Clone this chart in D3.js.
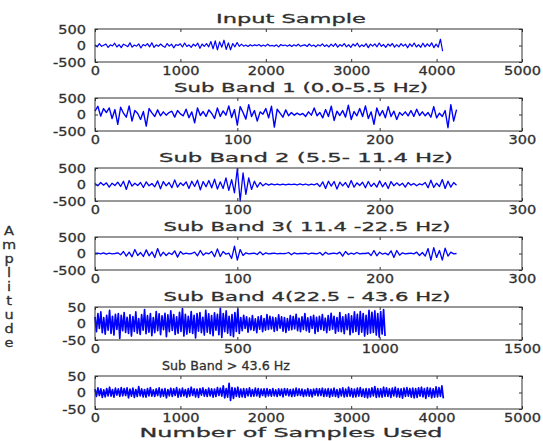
<!DOCTYPE html>
<html><head><meta charset="utf-8">
<script src="https://cdn.jsdelivr.net/npm/d3@7/dist/d3.min.js"></script>
<style>body{margin:0;background:#fff}text{font-family:'DejaVu Sans',sans-serif;fill:#2f2f2f;stroke:#2f2f2f;stroke-width:0.3px}</style>
</head><body><svg id="c" width="543" height="441"></svg>
<script>
// ---------- DATA ----------
const titles = ["Input Sample","Sub Band 1 (0.0-5.5 Hz)","Sub Band 2 (5.5- 11.4 Hz)","Sub Band 3( 11.4 -22.5 Hz)","Sub Band 4(22.5 - 43.6 Hz)","Sub Band > 43.6 Hz"];
const xMax = [5000,300,300,300,1500,5000];
const xTicks = [[0,1000,2000,3000,4000,5000],[0,100,200,300],[0,100,200,300],[0,100,200,300],[0,500,1000,1500],[0,1000,2000,3000,4000,5000]];
const yMax = [500,500,500,500,50,50];
const yTicks = [[-500,0,500],[-500,0,500],[-500,0,500],[-500,0,500],[-50,0,50],[-50,0,50]];
const totalSamples = [4096,256,256,256,1024,4096];
const yLabel = "Amplitude";
const xLabel = "Number of Samples Used";

const inputSample = [
15,-40,55,-25,10,45,-60,20,-15,70,-45,25,-65,40,5,-35,80,-50,15,-20,
50,-75,30,-10,55,-40,85,-60,20,-25,45,-15,-55,60,-20,40,-70,25,0,50,
-45,75,-30,20,-55,40,-15,70,-85,45,-25,60,-40,120,-100,140,-130,110,-50,160,
-120,80,-130,60,-40,90,-25,40,-20,15,-30,25,-15,20,-5,30,-25,15,-20,40,
-15,5,-25,20,-40,30,-5,15,-20,25,-30,20,-15,40,-25,5,20,-30,45,-20,
15,-40,25,-15,50,-30,20,-45,40,-25,55,-50,30,-20,60,-40,25,-55,45,-15,
70,-45,20,-30,55,-65,40,-20,50,-40,75,-25,30,-55,45,-15,60,-50,25,-40,
55,-20,40,-70,50,-30,75,-45,25,-55,70,-40,50,-25,80,-65,40,-50,190,-170];

const subBand1 = [
100,250,-50,180,60,200,-120,150,-300,220,40,-80,260,-200,120,30,-150,90,-350,180,
50,-60,140,-40,80,-20,60,100,-80,120,20,-40,160,-100,80,-250,200,-30,90,-60,
140,30,-120,200,-60,110,-20,260,-90,150,-320,240,60,-140,300,-60,120,-200,80,10,
180,-100,250,-380,160,40,-80,140,-40,60,-20,40,-10,30,-60,80,-20,200,-40,60,
-100,150,-60,250,-180,100,-30,120,-80,280,-150,90,-40,180,-60,260,-120,80,-300,200,
-40,120,-100,240,-60,100,-150,60,-20,80,-40,120,-60,160,-30,80,-40,60,-80,240,
-100,40,-60,120,-400,300,-200,150];

const subBand2 = [
30,-40,60,-20,50,-80,40,-30,70,-60,100,-150,120,-50,40,-30,60,-90,80,-40,
30,-70,110,-130,90,-40,60,-100,140,-80,50,-30,80,-120,100,-60,130,-160,90,-70,
120,-100,160,-140,80,-120,200,-180,150,-250,480,-500,350,-300,200,-150,100,-80,60,-40,
30,-20,20,-10,15,-10,10,-15,10,-5,10,-15,20,-10,15,-20,10,-10,30,-60,
80,-120,100,-50,90,-140,70,-40,60,-90,120,-80,50,-30,70,-100,90,-60,40,-80,
110,-70,60,-120,90,-40,50,-30,40,-80,60,-20,30,-40,20,-10,60,-100,130,-90,
40,-60,150,-120,100,-80,60,-20];

const subBand3 = [
0,10,-10,20,-20,10,-10,0,20,-40,60,-80,40,-100,120,-60,30,-90,110,-70,
50,-120,150,-80,40,-60,20,-30,80,-110,60,-20,10,-10,0,40,-70,90,-50,20,
-10,60,-100,140,-90,60,-20,10,-150,220,-200,120,-60,20,-10,0,10,-30,50,-40,
20,-10,0,10,-10,5,-5,0,30,-40,20,-10,0,0,10,-20,10,0,-10,30,
-50,40,-20,0,10,-10,40,-80,60,-30,10,-20,30,-10,0,0,20,-60,90,-70,
40,-20,10,-40,80,-120,90,-50,20,-10,0,10,-10,40,-60,30,-80,150,-200,180,
-120,90,-200,160,-80,40,-10,0];

const subBand4 = [
20,-25,30,-15,35,-28,18,-32,25,-20,40,-30,22,-35,28,-18,30,-45,25,-22,
33,-27,19,-30,26,-38,21,-24,35,-29,15,-33,27,-20,42,-31,24,-26,30,-37,
18,-28,36,-22,29,-34,23,-19,31,-40,26,-25,38,-21,27,-33,20,-29,34,-24,
45,-38,28,-32,22,-27,36,-30,25,-44,30,-23,33,-28,19,-35,40,-26,29,-31,
24,-37,32,-20,28,-34,46,-42,30,-25,38,-29,22,-36,27,-40,33,-24,44,-30,
18,-22,25,-15,20,-26,16,-19,24,-21,14,-28,20,-17,23,-25,15,-20,27,-18,
22,-16,19,-24,17,-21,26,-14,20,-23,18,-27,15,-20,24,-19,21,-16,28,-22,
16,-25,20,-18,30,-22,17,-26,21,-15,25,-30,19,-24,22,-18,27,-21,16,-28,
24,-20,31,-17,22,-29,18,-23,33,-25,20,-31,26,-19,29,-34,23,-27,35,-24,
28,-33,36,-26,30,-38,25,-32,40,-29,34,-27,38,-35,30,-41,36,-32,42,-38];

const subBand5 = [
10,-12,14,-9,11,-15,8,-13,12,-10,16,-11,9,-14,13,-8,11,-12,15,-10,
12,-9,14,-16,10,-11,13,-15,9,-12,18,-10,11,-13,9,-14,12,-10,15,-11,
8,-12,11,-9,14,-13,10,-11,12,-16,9,-10,13,-12,11,-9,15,-14,10,-12,
13,-10,9,-14,12,-11,16,-9,11,-13,10,-15,12,-8,14,-11,9,-12,13,-10,
11,-14,10,-12,15,-9,13,-11,20,-16,12,-14,28,-24,15,-18,13,-12,16,-14,
10,-13,12,-15,11,-10,14,-12,9,-11,13,-10,12,-14,10,-9,11,-13,12,-10,
9,-11,12,-10,8,-12,11,-9,10,-13,12,-8,11,-10,9,-12,10,-11,13,-9,
11,-9,10,-12,8,-10,12,-11,9,-13,10,-8,12,-10,11,-9,13,-12,10,-11,
12,-14,10,-11,13,-12,9,-15,11,-10,14,-13,10,-12,16,-11,12,-14,10,-13,
13,-11,15,-12,10,-14,12,-16,11,-13,14,-10,18,-15,12,-13,11,-14,16,-12,
14,-12,11,-15,13,-10,16,-13,12,-14,11,-17,13,-12,15,-11,12,-14,13,-16,
12,-15,14,-11,16,-13,12,-18,15,-12,13,-16,11,-14,17,-13,15,-12,20,-18];

const series = [inputSample, subBand1, subBand2, subBand3, subBand4, subBand5];

// ---------- LAYOUT ----------
const L = 95, R = 522, H = 33;
const tops = [29, 98, 168, 237, 307, 376];
const titleCx = [291, 301, 306, 307, 307, 226];
const titleW  = [150, 254, 294, 287, 287, 128];
const lineW = [1.2, 1.4, 1.3, 1.3, 1.7, 1.7];
const FS = 13, SX = 1.12; // font size and horizontal stretch of the text
const ink = "#333";

const svg = d3.select("#c");

series.forEach((vals, i) => {
  const g = svg.append("g").attr("transform", `translate(0,${tops[i]})`);
  const x = d3.scaleLinear().domain([0, xMax[i]]).range([L, R]);
  const y = d3.scaleLinear().domain([-yMax[i], yMax[i]]).range([H, 0]);
  const step = totalSamples[i] / vals.length;

  g.append("rect").attr("x", L).attr("y", 0).attr("width", R - L).attr("height", H)
    .attr("fill", "#fff").attr("stroke", "none");

  g.append("path").datum(vals)
    .attr("d", d3.line().x((d, j) => x(j * step)).y(d => y(d)))
    .attr("fill", "none").attr("stroke", "#0000ff").attr("stroke-width", lineW[i])
    .attr("stroke-linejoin", "round");

  const fmt = d => String(d);
  const axB = g.append("g").attr("transform", `translate(0,${H})`)
    .call(d3.axisBottom(x).tickValues(xTicks[i]).tickSizeInner(-3).tickSizeOuter(0).tickPadding(4).tickFormat(fmt));
  const axT = g.append("g")
    .call(d3.axisTop(x).tickValues(xTicks[i]).tickSizeInner(-3).tickSizeOuter(0).tickFormat(""));
  const axL = g.append("g").attr("transform", `translate(${L},0)`)
    .call(d3.axisLeft(y).tickValues(yTicks[i]).tickSizeInner(-3).tickSizeOuter(0).tickPadding(9 / SX).tickFormat(fmt));
  const axR = g.append("g").attr("transform", `translate(${R},0)`)
    .call(d3.axisRight(y).tickValues(yTicks[i]).tickSizeInner(-3).tickSizeOuter(0).tickFormat(""));

  [axB, axT, axL, axR].forEach(a => {
    a.select(".domain").remove();
    a.selectAll("line").attr("stroke", ink);
    a.selectAll("text").attr("font-family", "DejaVu Sans").attr("font-size", FS)
      .attr("fill", "#2f2f2f").attr("transform", `scale(${SX},1)`);
  });

  g.append("rect").attr("x", L).attr("y", 0).attr("width", R - L).attr("height", H)
    .attr("fill", "none").attr("stroke", ink).attr("stroke-width", 1);

  g.append("text").attr("x", titleCx[i]).attr("y", -6).attr("text-anchor", "middle")
    .attr("font-size", FS).attr("textLength", titleW[i]).attr("lengthAdjust", "spacingAndGlyphs")
    .text(titles[i]);
});

// stacked y label
svg.append("g").selectAll("text").data(yLabel.split("")).join("text")
  .attr("text-anchor", "middle").attr("font-size", FS)
  .attr("transform", (d, j) => `translate(9,${235 + j * 14}) scale(${SX},1)`)
  .text(d => d);

svg.append("text").attr("x", 291).attr("y", 437).attr("text-anchor", "middle")
  .attr("font-size", FS).attr("textLength", 303).attr("lengthAdjust", "spacingAndGlyphs")
  .text(xLabel);
</script></body></html>
